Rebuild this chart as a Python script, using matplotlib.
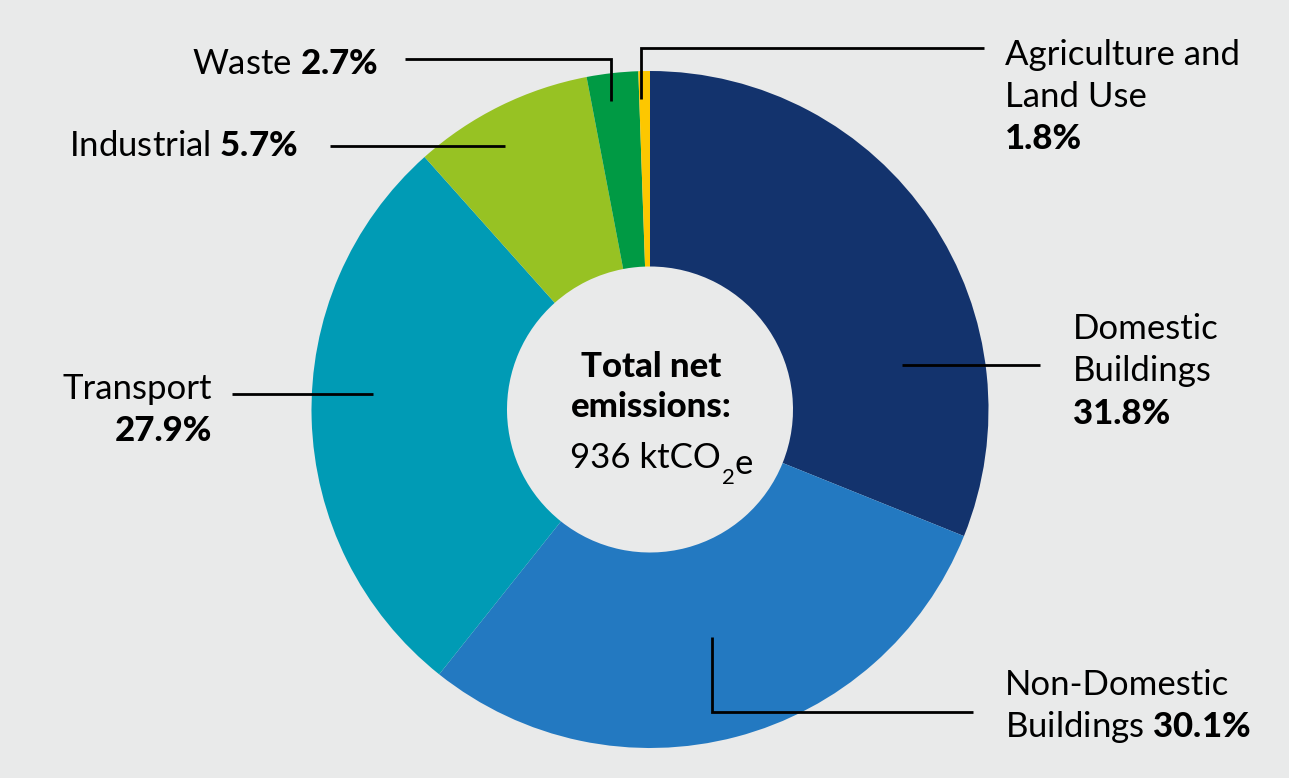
import matplotlib.pyplot as plt

plt.rcParams['font.family'] = ['Lato', 'DejaVu Sans']
plt.rcParams['mathtext.fontset'] = 'custom'
plt.rcParams['mathtext.rm'] = 'Lato'
plt.rcParams['mathtext.bf'] = 'Lato:black'
plt.rcParams['mathtext.default'] = 'regular'

W, H = 1289, 778
BG = '#e9eaea'

sectors = ['Domestic Buildings', 'Non-Domestic Buildings', 'Transport',
           'Industrial', 'Waste', 'Agriculture and Land Use']
# ring sizes as drawn in the picture (%), clockwise from 12 o'clock
ring_share = [31.1, 29.6, 27.7, 8.6, 2.45, 0.55]
# percentages as printed on the labels
label_pct = ['31.8', '30.1', '27.9', '5.7', '2.7', '1.8']
total_kt = 936
colors = ['#13336d', '#2379c1', '#009bb5', '#97c223', '#009a44', '#fdc700']

fig = plt.figure(figsize=(W / 100, H / 100), dpi=100, facecolor=BG)
ax = fig.add_axes([0, 0, 1, 1])
ax.set_facecolor(BG)

cx, cy = 650, H - 409.5
R, r = 338.5, 143
ax.pie(ring_share, colors=colors, startangle=90, counterclock=False,
       radius=R, center=(cx, cy),
       wedgeprops=dict(width=R - r, edgecolor='none', antialiased=True))
ax.set_xlim(0, W)
ax.set_ylim(0, H)
ax.set_aspect('equal')
ax.axis('off')


def y(py):
    return H - py


# leader lines (pixel positions from the top-left)
leaders = [
    [(405, 59), (611, 59), (611, 101)],     # waste
    [(330, 146), (505, 146)],               # industrial
    [(641, 99), (641, 48), (984, 48)],      # agriculture
    [(902, 365), (1040, 365)],              # domestic
    [(712, 637), (712, 712), (973, 712)],   # non-domestic
    [(232, 394), (373, 394)],               # transport
]
for path in leaders:
    xs = [p[0] for p in path]
    ys = [y(p[1]) for p in path]
    ax.plot(xs, ys, color='black', lw=2.0, solid_capstyle='butt',
            solid_joinstyle='miter')

fs = 25
pct = dict(zip(sectors, label_pct))

def txt(x, py, s, ha='left', bold=False):
    ax.text(x, y(py), s, ha=ha, va='baseline', fontsize=fs,
            fontweight='black' if bold else 'normal', color='black')


txt(378, 74, r'Waste $\mathbf{' + pct['Waste'] + r'\%}$', ha='right')
txt(298, 156, r'Industrial $\mathbf{' + pct['Industrial'] + r'\%}$', ha='right')

txt(1005, 65, 'Agriculture and')
txt(1005, 107, 'Land Use')
txt(1005, 149, pct['Agriculture and Land Use'] + '%', bold=True)

txt(1073, 339, 'Domestic')
txt(1073, 381, 'Buildings')
txt(1073, 424, pct['Domestic Buildings'] + '%', bold=True)

txt(1005, 695, 'Non-Domestic')
txt(1005, 737, r'Buildings $\mathbf{' + pct['Non-Domestic Buildings'] + r'\%}$')

txt(212, 399, 'Transport', ha='right')
txt(212, 441, pct['Transport'] + '%', ha='right', bold=True)

txt(651, 377, 'Total net', ha='center', bold=True)
txt(651, 417, 'emissions:', ha='center', bold=True)
# value with a lowered subscript, as in the reference
t1 = ax.text(645, y(468), f'{total_kt} ktCO', ha='center', va='baseline',
             fontsize=fs)
ax.annotate('2', xy=(1, 0), xycoords=t1, xytext=(1, -7),
            textcoords='offset points', ha='left', va='baseline', fontsize=16)
ax.annotate('e', xy=(1, 0), xycoords=t1, xytext=(10, 0),
            textcoords='offset points', ha='left', va='baseline', fontsize=fs)

fig.savefig('out.png', dpi=100, facecolor=BG)
